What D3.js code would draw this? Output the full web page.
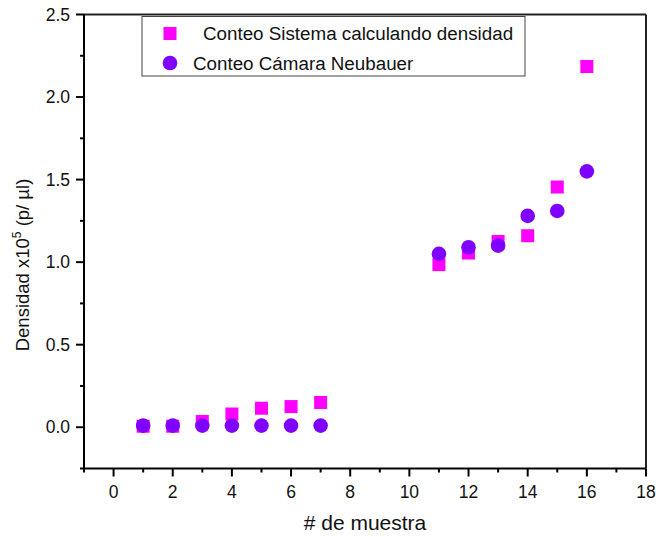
<!DOCTYPE html>
<html><head><meta charset="utf-8">
<script src="https://cdn.jsdelivr.net/npm/d3@7"></script>
<style>body{margin:0;background:#fff;} text{font-family:"Liberation Sans",Arial,sans-serif;}</style>
</head><body>
<svg id="chart" width="656" height="537"></svg>
<script>
const samples = [1, 2, 3, 4, 5, 6, 7, 11, 12, 13, 14, 15, 16];
const sistema = [0.006, 0.006, 0.035, 0.08, 0.115, 0.125, 0.15, 0.985, 1.055, 1.125, 1.16, 1.455, 2.185];
const neubauer = [0.01, 0.01, 0.01, 0.01, 0.01, 0.01, 0.01, 1.05, 1.09, 1.10, 1.28, 1.31, 1.55];
const seriesNames = ["Conteo Sistema calculando densidad", "Conteo Cámara Neubauer"];
const xTicks = [0, 2, 4, 6, 8, 10, 12, 14, 16, 18];
const yTicks = [0.0, 0.5, 1.0, 1.5, 2.0, 2.5];

const svg = d3.select("#chart");
const L = 84, R = 646, T = 14.5, B = 468.5;
const x = d3.scaleLinear().domain([-1, 18]).range([L, R]);
const y = d3.scaleLinear().domain([-0.25, 2.5]).range([B, T]);

// frame top/right
svg.append("line").attr("x1", L).attr("x2", R).attr("y1", T).attr("y2", T).attr("stroke", "#222").attr("stroke-width", 2);
svg.append("line").attr("x1", R).attr("x2", R).attr("y1", T).attr("y2", B).attr("stroke", "#222").attr("stroke-width", 2);

// x axis
const xMinor = d3.range(-1, 19, 1);
const xa = svg.append("g").attr("transform", `translate(0,${B})`);
xa.append("line").attr("x1", L).attr("x2", R).attr("stroke", "#000").attr("stroke-width", 2);
xa.selectAll(".mt").data(xMinor).join("line")
  .attr("x1", d => x(d)).attr("x2", d => x(d)).attr("y1", 0)
  .attr("y2", d => xTicks.includes(d) ? 8 : 4).attr("stroke", "#000").attr("stroke-width", 2);
xa.selectAll(".lbl").data(xTicks).join("text")
  .attr("x", d => x(d)).attr("y", 29).attr("text-anchor", "middle")
  .attr("font-size", 17.5).attr("fill", "#111").text(d => d);

// y axis
const yMinor = d3.range(-0.25, 2.51, 0.25);
const ya = svg.append("g");
ya.append("line").attr("x1", L).attr("x2", L).attr("y1", T).attr("y2", B).attr("stroke", "#000").attr("stroke-width", 2);
ya.selectAll(".mt").data(yMinor).join("line")
  .attr("y1", d => y(d)).attr("y2", d => y(d)).attr("x1", L)
  .attr("x2", d => yTicks.some(t => Math.abs(t - d) < 1e-6) ? L - 8 : L - 4).attr("stroke", "#000").attr("stroke-width", 2);
ya.selectAll(".lbl").data(yTicks).join("text")
  .attr("x", 70).attr("y", d => y(d)).attr("dy", "0.35em").attr("text-anchor", "end")
  .attr("font-size", 17.5).attr("fill", "#111").text(d => d.toFixed(1));

// axis titles
svg.append("text").attr("x", (L + R) / 2).attr("y", 530).attr("text-anchor", "middle")
  .attr("font-size", 21).attr("fill", "#111").text("# de muestra");
const yt = svg.append("text").attr("transform", "translate(29,265) rotate(-90)")
  .attr("text-anchor", "middle").attr("font-size", 18.5).attr("fill", "#111");
yt.append("tspan").text("Densidad x10");
yt.append("tspan").attr("font-size", 12).attr("dy", -8).text("5");
yt.append("tspan").attr("dy", 8).text(" (p/ µl)");

// data
const sq = 13;
svg.append("g").selectAll("rect").data(samples).join("rect")
  .attr("x", (d, i) => x(d) - sq / 2).attr("y", (d, i) => y(sistema[i]) - sq / 2)
  .attr("width", sq).attr("height", sq).attr("fill", "#FF00FF");
svg.append("g").selectAll("circle").data(samples).join("circle")
  .attr("cx", d => x(d)).attr("cy", (d, i) => y(neubauer[i])).attr("r", 7.3).attr("fill", "#8000FF");

// legend
const lg = svg.append("g");
lg.append("rect").attr("x", 142).attr("y", 16.5).attr("width", 383).attr("height", 59.5)
  .attr("fill", "#fff").attr("stroke", "#444").attr("stroke-width", 1);
lg.append("rect").attr("x", 170 - 6.5).attr("y", 33.5 - 6.5).attr("width", 13).attr("height", 13).attr("fill", "#FF00FF");
lg.append("circle").attr("cx", 170).attr("cy", 63).attr("r", 7.3).attr("fill", "#8000FF");
lg.append("text").attr("x", 203).attr("y", 33.5).attr("dy", "0.35em").attr("font-size", 18.8).attr("fill", "#111").text(seriesNames[0]);
lg.append("text").attr("x", 193).attr("y", 63).attr("dy", "0.35em").attr("font-size", 18.8).attr("fill", "#111").text(seriesNames[1]);
</script>
</body></html>
